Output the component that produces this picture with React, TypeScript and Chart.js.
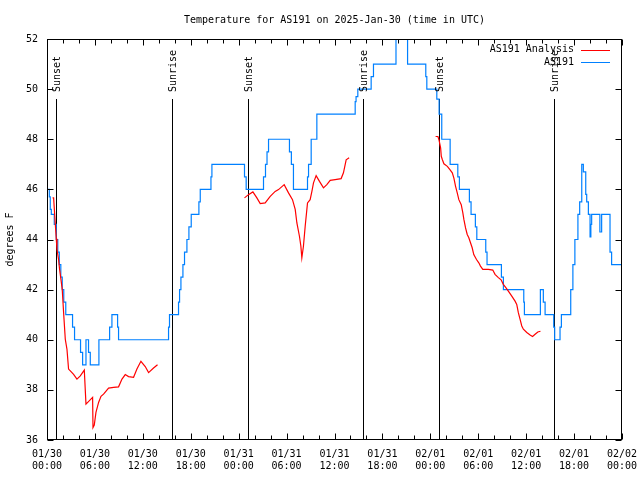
import React, { useEffect, useRef } from 'react';
import { Chart, registerables } from 'chart.js';

Chart.register(...registerables);

const FONT = '"DejaVu Sans Mono", "Liberation Mono", monospace';
const titleText = 'Temperature for AS191 on 2025-Jan-30 (time in UTC)';
const yTitle = 'degrees F';

// x tick labels every 6 hours from 01/30 00:00 to 02/02 00:00
const xTickLabels: string[][] = [
  ['01/30', '00:00'], ['01/30', '06:00'], ['01/30', '12:00'], ['01/30', '18:00'],
  ['01/31', '00:00'], ['01/31', '06:00'], ['01/31', '12:00'], ['01/31', '18:00'],
  ['02/01', '00:00'], ['02/01', '06:00'], ['02/01', '12:00'], ['02/01', '18:00'],
  ['02/02', '00:00'],
];

// AS191 observations (hours since 01/30 00:00 UTC, deg F), stepped
const obsHours = [
  0.0, 0.29, 0.41, 0.54, 0.91, 1.16, 1.35, 1.54, 1.73, 1.91, 2.1, 2.35, 3.2, 3.45, 4.2, 4.46,
  4.88, 5.2, 5.42, 6.5, 7.84, 8.13, 8.84, 8.96, 15.22, 15.34, 16.47, 16.6, 16.77, 17.02, 17.22,
  17.52, 17.77, 18.06, 19.02, 19.19, 20.53, 20.65, 24.73, 24.94, 27.11, 27.36, 27.55, 27.74,
  30.36, 30.6, 30.86, 32.62, 32.75, 33.08, 33.79, 38.59, 38.7, 38.92, 40.59, 40.88, 43.7,
  45.15, 47.43, 47.56, 48.81, 49.1, 49.43, 50.48, 51.44, 51.64, 52.89, 53.1, 53.64, 53.82,
  54.94, 55.1, 56.9, 57.15, 59.7, 59.78, 61.78, 62.15, 62.37, 63.45, 63.57, 64.24, 64.41,
  65.58, 65.85, 66.1, 66.48, 66.7, 66.96, 67.16, 67.46, 67.58, 67.79, 68.0, 68.1, 68.2,
  69.23, 69.45, 70.5, 70.7, 72.0,
];
const obsTemps = [
  46, 45.7, 45.2, 45.0, 44.6, 44.0, 43.5, 43.0, 42.5, 42.0, 41.5, 41.0, 40.5, 40.0, 39.5, 39.0,
  40.0, 39.5, 39.0, 40.0, 40.5, 41.0, 40.5, 40.0, 40.5, 41.0, 41.5, 42.0, 42.5, 43.0, 43.5,
  44.0, 44.5, 45.0, 45.5, 46.0, 46.5, 47.0, 46.5, 46.0, 46.5, 47.0, 47.5, 48.0,
  47.5, 47.0, 46.0, 46.5, 47.0, 48.0, 49.0, 49.5, 49.7, 50.0, 50.5, 51.0, 52.6,
  51.0, 50.5, 50.0, 49.6, 49.0, 48.0, 47.0, 46.5, 46.0, 45.5, 45.0, 44.5, 44.0,
  43.5, 43.0, 42.5, 42.0, 41.5, 41.0, 42.0, 41.5, 41.0, 40.5, 40.0, 40.5, 41.0,
  42.0, 43.0, 44.0, 45.0, 45.5, 47.0, 46.7, 45.8, 45.5, 45.0, 44.1, 44.6, 45.0,
  44.3, 45.0, 43.5, 43.0, 43.0,
];

// AS191 Analysis (null = gap)
const anaHours = [
  0.70, 0.83, 0.95, 1.16, 1.25, 1.45, 1.58, 1.75, 1.91, 2.08, 2.29, 2.5, 2.7, 2.92, 3.33, 3.75,
  4.17, 4.67, 4.88, 5.71, 5.76, 5.92, 6.13, 6.46, 6.76, 7.08, 7.71, 8.34, 8.96, 9.39, 9.8,
  10.21, 10.84, 11.26, 11.76, 12.3, 12.72, 13.34, 13.84,
  14.5,
  24.73, 25.23, 25.78, 26.28, 26.7, 27.32, 27.95, 28.57, 28.99, 29.7, 30.24, 30.74, 31.08,
  31.29, 31.61, 31.79, 31.91, 32.11, 32.33, 32.62, 32.95, 33.17, 33.37, 33.7, 34.12, 34.62,
  35.04, 35.46, 36.08, 36.83, 37.12, 37.46, 37.83,
  40.0,
  48.66, 48.95, 49.08, 49.29, 49.37, 49.5, 49.7, 50.13, 50.45, 50.75, 50.95, 51.16, 51.37,
  51.57, 51.87, 52.07, 52.2, 52.41, 52.62, 52.82, 53.03, 53.24, 53.44, 53.78, 54.07, 54.28,
  54.57, 55.27, 55.82, 56.1, 56.52, 56.86, 57.14, 57.48, 57.77, 58.2, 58.61, 58.82, 59.02,
  59.24, 59.45, 59.65, 60.08, 60.49, 60.8, 61.12, 61.46, 61.79,
];
const anaTemps: (number | null)[] = [
  45.66, 45.66, 45.06, 44.03, 43.6, 43.2, 42.8, 42.4, 42.0, 41.08, 40.02, 39.62, 38.83, 38.76, 38.62, 38.43,
  38.56, 38.79, 37.43, 37.7, 36.5, 36.6, 37.1, 37.5, 37.74, 37.83, 38.07, 38.1, 38.12, 38.43, 38.61,
  38.53, 38.5, 38.83, 39.14, 38.93, 38.69, 38.87, 39.0,
  null,
  45.66, 45.79, 45.9, 45.66, 45.43, 45.46, 45.72, 45.92, 45.99, 46.19, 45.86, 45.59, 45.2,
  44.66, 44.13, 43.73, 43.27, 43.73, 44.53, 45.46, 45.59, 45.92, 46.26, 46.55, 46.32, 46.06,
  46.19, 46.36, 46.39, 46.43, 46.66, 47.18, 47.26,
  null,
  48.11, 48.11, 47.98, 47.65, 47.32, 47.19, 47.02, 46.92, 46.79, 46.66, 46.45, 46.12, 45.86,
  45.59, 45.39, 45.06, 44.8, 44.46, 44.2, 44.07, 43.87, 43.67, 43.4, 43.2, 43.07, 42.94,
  42.81, 42.81, 42.78, 42.61, 42.48, 42.39, 42.21, 42.07, 41.94, 41.74, 41.54, 41.41, 41.08,
  40.81, 40.55, 40.42, 40.29, 40.19, 40.13, 40.22, 40.31, 40.34,
];

const sunHours = [1.18, 15.64, 25.23, 39.63, 49.1, 63.5];
const sunLabels = ['Sunset', 'Sunrise', 'Sunset', 'Sunrise', 'Sunset', 'Sunrise'];

const RED = '#ff0000';
const BLUE = '#0080ff';

const decorPlugin = {
  id: 'decor',
  beforeDatasetsDraw(chart: any) {
    const { ctx, chartArea } = chart;
    const xs = chart.scales.x;
    ctx.save();
    ctx.strokeStyle = '#000';
    ctx.lineWidth = 1;
    sunHours.forEach((h) => {
      const x = Math.round(xs.getPixelForValue(h)) + 0.5;
      ctx.beginPath();
      ctx.moveTo(x, chartArea.top + 60);
      ctx.lineTo(x, chartArea.bottom);
      ctx.stroke();
    });
    ctx.restore();
  },
  afterDatasetsDraw(chart: any) {
    const { ctx, chartArea } = chart;
    const xs = chart.scales.x;
    const ys = chart.scales.y;
    const L = Math.round(chartArea.left) + 0.5;
    const R = Math.round(chartArea.right) - 0.5;
    const T = Math.round(chartArea.top) + 0.5;
    const B = Math.round(chartArea.bottom) - 0.5;
    ctx.save();
    ctx.strokeStyle = '#000';
    ctx.fillStyle = '#000';
    ctx.lineWidth = 1;
    // frame
    ctx.strokeRect(L, T, R - L, B - T);
    // x ticks (every 2h, longer every 6h)
    ctx.beginPath();
    for (let h = 0; h <= 72; h += 2) {
      const x = Math.round(xs.getPixelForValue(h)) + 0.5;
      const len = h % 6 === 0 ? 6 : 4;
      ctx.moveTo(x, B);
      ctx.lineTo(x, B - len);
      ctx.moveTo(x, T);
      ctx.lineTo(x, T + len);
    }
    // y ticks
    for (let v = 36; v <= 52; v += 2) {
      const y = Math.round(ys.getPixelForValue(v)) + 0.5;
      ctx.moveTo(L, y);
      ctx.lineTo(L + 6, y);
      ctx.moveTo(R, y);
      ctx.lineTo(R - 6, y);
    }
    ctx.stroke();

    ctx.font = `10px ${FONT}`;
    // title centred on plot area
    ctx.textAlign = 'center';
    ctx.textBaseline = 'middle';
    ctx.fillText(titleText, (chartArea.left + chartArea.right) / 2, 20);

    // sun labels
    sunHours.forEach((h, i) => {
      const x = Math.round(xs.getPixelForValue(h)) + 1;
      ctx.save();
      ctx.translate(x, chartArea.top + 53);
      ctx.rotate(-Math.PI / 2);
      ctx.textAlign = 'left';
      ctx.textBaseline = 'middle';
      ctx.fillText(sunLabels[i], 0, 0);
      ctx.restore();
    });

    // legend (gnuplot style: text right-aligned, sample to the right)
    const ds = chart.data.datasets;
    ds.forEach((d: any, i: number) => {
      const y = chartArea.top + 10.5 + i * 12.5;
      ctx.textAlign = 'right';
      ctx.textBaseline = 'middle';
      ctx.fillStyle = '#000';
      ctx.fillText(d.label, chartArea.right - 48, y);
      ctx.strokeStyle = d.borderColor;
      ctx.beginPath();
      const yy = Math.round(y) + 0.5;
      ctx.moveTo(chartArea.right - 41, yy);
      ctx.lineTo(chartArea.right - 12, yy);
      ctx.stroke();
    });
    ctx.restore();
  },
};

export default function App() {
  const ref = useRef<HTMLCanvasElement | null>(null);
  useEffect(() => {
    if (!ref.current) return;
    const chart = new Chart(ref.current, {
      type: 'line',
      data: {
        datasets: [
          {
            label: 'AS191 Analysis',
            data: anaHours.map((h, i) => ({ x: h, y: anaTemps[i] })),
            borderColor: RED,
            borderWidth: 1.2,
            pointRadius: 0,
            spanGaps: false,
            tension: 0,
          },
          {
            label: 'AS191',
            data: obsHours.map((h, i) => ({ x: h, y: obsTemps[i] })),
            borderColor: BLUE,
            borderWidth: 1.2,
            pointRadius: 0,
            stepped: 'before',
          },
        ],
      } as any,
      options: {
        responsive: false,
        animation: false,
        layout: { padding: { top: 39, left: 0, right: 0, bottom: 0 } },
        plugins: {
          legend: { display: false },
          tooltip: { enabled: false },
          title: { display: false },
        },
        scales: {
          x: {
            type: 'linear',
            min: 0,
            max: 72,
            grid: { display: false, drawTicks: false },
            border: { display: false },
            ticks: {
              stepSize: 6,
              autoSkip: false,
              maxRotation: 0,
              color: '#000',
              padding: 9,
              font: { family: FONT, size: 10, lineHeight: 1.15 },
              callback: (v: any) => xTickLabels[Math.round(Number(v) / 6)],
            },
            afterFit: (s: any) => {
              s.height = 40;
              s.paddingLeft = 0;
              s.paddingRight = 0;
            },
          },
          y: {
            position: 'left',
            min: 36,
            max: 52,
            grid: { display: false, drawTicks: false },
            border: { display: false },
            ticks: {
              stepSize: 2,
              color: '#000',
              padding: 9,
              font: { family: FONT, size: 10 },
            },
            title: {
              display: true,
              text: yTitle,
              color: '#000',
              font: { family: FONT, size: 10 },
              padding: { top: 4, bottom: 0 },
            },
            afterFit: (s: any) => {
              s.width = 47;
              s.paddingTop = 0;
              s.paddingBottom = 0;
            },
          },
          y2: {
            position: 'right',
            display: true,
            grid: { display: false, drawTicks: false },
            border: { display: false },
            ticks: { display: false },
            afterFit: (s: any) => {
              s.width = 18;
              s.paddingTop = 0;
              s.paddingBottom = 0;
            },
          },
        },
      } as any,
      plugins: [decorPlugin],
    });
    return () => chart.destroy();
  }, []);
  return (
    <div style={{ position: 'fixed', left: 0, top: 0, width: 640, height: 480, background: '#fff' }}>
      <canvas ref={ref} width={640} height={480} style={{ width: 640, height: 480 }} />
    </div>
  );
}
